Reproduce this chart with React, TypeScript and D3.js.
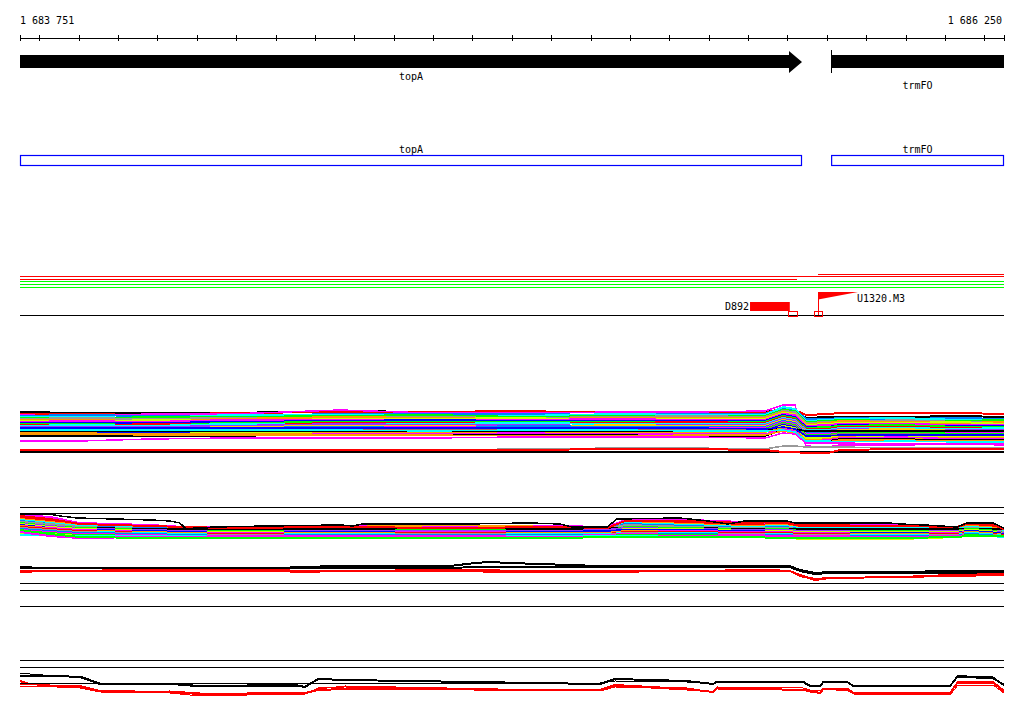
import React from 'react';
import * as d3 from 'd3';

const VIEW_START = 1683751;
const VIEW_END = 1686250;
const AXIS_LABEL_POS = [1683751, 1686250];
const TICK_STEP = 100;

const GENE_NAMES = ['topA', 'trmFO'];
const GENE_STARTS = [1683751, 1685811];
const GENE_ENDS = [1685737, 1686250];
const GENE_HAS_HEAD = [true, false];
const GENE_LABEL_ROW = [0, 1];

// feature segments track (offset units)
const SEG_COLORS = ['#ff0000', '#ff0000', '#ff0000', '#00ff00', '#00ff00', '#00ff00'];
const SEG_STARTS = [1683751, 1683751, 1685778, 1683751, 1683751, 1683751];
const SEG_ENDS = [1686250, 1685724, 1686250, 1686250, 1686250, 1686250];
const SEG_LEVELS = [6, 9, 4, 11, 14, 17];

const FEAT_NAMES = ['D892', 'U1320.M3'];
const FEAT_STARTS = [1685605, 1685778];
const FEAT_ENDS = [1685706, 1685879];
const FEAT_KIND = ['block', 'flag'];
const SITE_STARTS = [1685701, 1685768];
const SITE_ENDS = [1685724, 1685788];

// ---------- band 1 ----------
const B1_POS = [1683751, 1683901, 1684081, 1684284, 1684564, 1684792, 1685021, 1685275, 1685453, 1685643, 1685689, 1685719, 1685747, 1685803, 1685833, 1685986, 1686138, 1686250];
const B1_COLORS = ['#000000', '#ff0000', '#ff00ff', '#0080ff', '#00ffff', '#00ff00', '#999999', '#ff9900', '#ccff00', '#ff00ff', '#0000ff', '#00ff00', '#ff0000', '#00ffff', '#9933ff', '#ffcc00', '#0080ff', '#ff00ff', '#00ff00', '#a07070', '#0000ff', '#ccff00', '#000000', '#ff9900', '#ff00ff', '#000000', '#ff9900', '#00ffff', '#ff00ff', '#0000ff'];
const B1_SERIES = [
  [12, 13, 13, 13, 11, 12, 12, 12, 13, 12, 9, 10, 18, 17, 17, 17, 16, 17],
  [14, 14, 15, 13, 12, 12, 11, 13, 13, 13, 8, 10, 15, 14, 13, 13, 13, 14],
  [15, 16, 14, 14, 10, 13, 13, 12, 12, 11, 5, 5, 46, 47, 45, 45, 44, 45],
  [16, 15, 16, 16, 14, 14, 14, 15, 14, 14, 8, 9, 19, 19, 18, 19, 18, 19],
  [17, 17, 18, 15, 15, 16, 16, 14, 15, 15, 7, 9, 21, 20, 19, 18, 20, 21],
  [18, 19, 17, 17, 16, 15, 17, 16, 17, 16, 10, 11, 22, 21, 20, 21, 21, 20],
  [19, 18, 19, 18, 18, 17, 18, 17, 16, 17, 11, 12, 23, 22, 22, 20, 22, 23],
  [20, 20, 21, 19, 17, 18, 19, 18, 18, 18, 12, 14, 24, 23, 21, 22, 23, 22],
  [21, 22, 20, 21, 19, 19, 18, 20, 19, 19, 13, 14, 25, 24, 23, 23, 22, 24],
  [22, 21, 22, 20, 20, 21, 20, 19, 20, 20, 14, 15, 26, 25, 24, 24, 25, 25],
  [23, 23, 23, 22, 21, 20, 21, 21, 21, 21, 15, 17, 27, 27, 25, 26, 26, 26],
  [24, 24, 25, 23, 22, 22, 22, 22, 23, 22, 16, 18, 28, 27, 26, 25, 27, 27],
  [25, 26, 24, 25, 23, 23, 24, 23, 22, 23, 17, 19, 29, 29, 27, 27, 28, 29],
  [26, 25, 26, 24, 25, 24, 23, 24, 24, 24, 18, 20, 30, 30, 28, 28, 29, 28],
  [27, 27, 27, 26, 24, 25, 25, 26, 25, 25, 19, 21, 31, 31, 29, 30, 30, 30],
  [28, 28, 29, 27, 26, 26, 27, 25, 26, 26, 20, 22, 32, 32, 30, 29, 31, 31],
  [29, 30, 28, 28, 27, 28, 26, 27, 27, 27, 21, 23, 33, 33, 31, 31, 32, 32],
  [30, 29, 30, 29, 28, 27, 28, 28, 28, 28, 22, 24, 34, 34, 32, 33, 33, 33],
  [31, 31, 31, 30, 29, 29, 29, 29, 29, 29, 23, 25, 35, 35, 33, 32, 34, 34],
  [32, 32, 32, 31, 30, 30, 30, 30, 30, 30, 24, 26, 36, 36, 34, 34, 35, 35],
  [33, 33, 33, 32, 31, 31, 31, 31, 31, 31, 25, 27, 37, 37, 35, 35, 36, 35],
  [34, 34, 34, 33, 32, 32, 32, 32, 32, 32, 26, 28, 38, 38, 36, 36, 37, 36],
  [31, 31, 31, 31, 31, 31, 31, 31, 31, 31, 27, 29, 31, 31, 31, 31, 31, 31],
  [33, 33, 34, 34, 33, 33, 33, 33, 33, 32, 28, 30, 40, 39, 37, 38, 38, 38],
  [35, 35, 35, 35, 34, 34, 33, 34, 34, 34, 29, 31, 41, 40, 38, 37, 39, 39],
  [36, 36, 36, 36, 35, 35, 35, 35, 36, 36, 30, 32, 42, 41, 39, 39, 40, 40],
  [34, 34, 35, 35, 35, 35, 36, 36, 35, 35, 31, 33, 43, 42, 40, 40, 41, 41],
  [30, 30, 30, 30, 30, 31, 30, 30, 31, 31, 30, 32, 41, 41, 42, 41, 42, 42],
  [41, 41, 39, 38, 38, 38, 37, 37, 37, 38, 33, 34, 43, 43, 43, 44, 44, 44],
  [28, 28, 28, 28, 28, 28, 28, 28, 28, 29, 27, 29, 36, 36, 35, 35, 35, 35],
];
const B1_WIDTHS = [2, 2, 1.5, 2, 2, 2, 2, 2, 2, 2, 2, 2, 2, 2, 2, 2, 2, 2, 2, 2, 2, 2, 1.5, 1.5, 1.5, 1.5, 1.5, 1.5, 1.5, 1.5];
const B1_BASE_COLORS = ['#999999', '#000000', '#ff0000'];
const B1_BASE_WIDTHS = [1.5, 1.5, 2];
const B1_BASE_SERIES = [
  [50, 50, 50, 50, 50, 50, 49, 48, 48, 49, 46, 46, 47, 47, 47, 48, 48, 48],
  [52, 52, 52, 52, 52, 52, 52, 52, 52, 52, 52, 52, 52, 52, 52, 52, 52, 52],
  [50, 50, 50, 50, 50, 50, 50, 49, 49, 50, 52, 52, 53, 53, 50, 49, 49, 49],
];

// ---------- band 2 ----------
const B2_RULES = [7, 13, 83, 90, 106];
const B2_TOP_POS = [1683751, 1683822, 1683853, 1683896, 1684086, 1684132, 1684157, 1684173, 1684195, 1684246, 1684378, 1684564, 1684597, 1684620, 1684876, 1685046, 1685122, 1685153, 1685242, 1685267, 1685427, 1685498, 1685549, 1685592, 1685699, 1685719, 1685960, 1685986, 1686049, 1686131, 1686156, 1686222, 1686250];
const B2_TOP = [14, 14, 16, 18, 20, 21, 23, 29, 28, 27, 26, 25, 26, 24, 24, 23, 24, 27, 27, 19, 18, 21, 24, 21, 21, 23, 23, 24, 25, 27, 23, 23, 28];
const B2_POS = [1683751, 1683827, 1683903, 1684081, 1684170, 1684284, 1684564, 1684843, 1685122, 1685242, 1685288, 1685453, 1685592, 1685694, 1685732, 1685986, 1686131, 1686156, 1686214, 1686250];
const B2_COLORS = ['#ff00ff', '#ff00ff', '#ff0000', '#ff9900', '#00ffff', '#0080ff', '#999999', '#000000', '#00ff00', '#9933ff', '#ccff00', '#0000ff', '#ff00ff', '#ff9900', '#ff0000', '#00ffff', '#999999', '#0080ff', '#ff00ff', '#00ff00', '#ccff00', '#00ffff', '#ff00ff', '#00ff00', '#ff0000'];
const B2_SERIES = [
  [15, 17, 23, 25, 27, 27, 26, 26, 26, 27, 20, 20, 22, 22, 25, 25, 27, 23, 24, 29],
  [17, 20, 25, 27, 28, 28, 28, 27, 28, 28, 21, 22, 24, 23, 26, 26, 28, 24, 25, 30],
  [18, 21, 24, 26, 28, 29, 28, 29, 28, 28, 22, 23, 25, 24, 27, 27, 28, 25, 26, 31],
  [19, 22, 25, 27, 29, 28, 27, 25, 27, 28, 22, 24, 26, 25, 28, 28, 29, 26, 27, 30],
  [20, 23, 26, 28, 29, 29, 29, 28, 29, 29, 23, 25, 27, 26, 28, 28, 29, 27, 28, 31],
  [21, 24, 27, 28, 29, 30, 29, 29, 29, 29, 24, 26, 28, 27, 29, 29, 30, 28, 29, 32],
  [22, 24, 27, 29, 30, 30, 30, 30, 30, 29, 25, 27, 28, 28, 29, 30, 30, 28, 29, 32],
  [25, 27, 28, 29, 29, 29, 29, 29, 29, 28, 28, 28, 29, 29, 29, 29, 29, 29, 29, 29],
  [23, 26, 28, 30, 31, 31, 31, 30, 31, 31, 27, 28, 30, 29, 31, 31, 31, 29, 30, 33],
  [24, 26, 29, 30, 31, 32, 31, 31, 31, 30, 28, 29, 30, 30, 31, 32, 31, 30, 31, 33],
  [24, 27, 29, 31, 32, 32, 32, 32, 32, 32, 29, 29, 31, 31, 32, 32, 32, 30, 31, 34],
  [25, 28, 30, 31, 32, 33, 32, 33, 32, 31, 30, 30, 31, 32, 33, 33, 33, 31, 32, 34],
  [26, 28, 30, 32, 33, 33, 33, 32, 33, 33, 31, 31, 32, 32, 33, 34, 33, 32, 33, 35],
  [26, 29, 31, 32, 33, 34, 33, 34, 33, 33, 31, 32, 33, 33, 34, 34, 34, 32, 33, 35],
  [27, 29, 31, 33, 34, 34, 34, 33, 34, 34, 32, 32, 33, 33, 34, 35, 34, 33, 34, 35],
  [28, 30, 32, 33, 34, 35, 34, 35, 34, 34, 33, 33, 34, 34, 35, 35, 35, 33, 34, 36],
  [28, 30, 32, 34, 35, 35, 35, 34, 35, 35, 33, 34, 34, 35, 35, 36, 35, 34, 35, 36],
  [29, 31, 33, 34, 35, 36, 35, 35, 35, 35, 34, 34, 35, 35, 36, 36, 36, 34, 35, 37],
  [30, 32, 34, 35, 36, 36, 36, 36, 36, 35, 34, 35, 35, 36, 36, 37, 36, 35, 36, 37],
  [31, 33, 35, 36, 36, 37, 37, 37, 37, 36, 35, 35, 36, 36, 37, 37, 37, 35, 36, 37],
  [33, 34, 36, 37, 37, 37, 37, 38, 38, 37, 36, 36, 37, 37, 39, 39, 37, 36, 36, 37],
  [35, 35, 36, 36, 36, 36, 36, 36, 36, 36, 36, 36, 37, 37, 37, 37, 37, 36, 36, 37],
  [32, 36, 38, 37, 37, 36, 36, 36, 37, 37, 37, 36, 36, 36, 37, 37, 36, 36, 36, 36],
  [30, 34, 37, 38, 38, 38, 38, 38, 38, 37, 37, 37, 37, 38, 38, 38, 37, 36, 36, 36],
  [16, 19, 24, 26, 27, 28, 27, 28, 27, 28, 21, 21, 23, 22, 25, 26, 27, 23, 24, 29],
];
const B2_LOW_POS = [1683751, 1683814, 1684107, 1684411, 1684462, 1684564, 1684843, 1684907, 1684945, 1684995, 1685224, 1685427, 1685656, 1685706, 1685732, 1685770, 1685808, 1685986, 1686113, 1686250];
const B2_LOW_COLORS = ['#000000', '#000000', '#ff0000', '#ff0000'];
const B2_LOW_SERIES = [
  [67, 68, 68, 68, 67, 66, 66, 63, 62, 63, 66, 66, 66, 66, 70, 73, 72, 72, 71, 71],
  [68, 68, 68, 68, 68, 68, 68, 67, 67, 67, 67, 67, 67, 67, 71, 74, 73, 73, 73, 72],
  [71, 71, 71, 71, 72, 71, 70, 70, 70, 71, 71, 71, 71, 71, 75, 80, 78, 77, 76, 75],
  [72, 71, 70, 70, 71, 71, 71, 71, 72, 72, 72, 71, 70, 71, 76, 79, 78, 77, 75, 74],
];

// ---------- band 3 ----------
const B3_RULES = [10, 17];
const B3_POS = [1683751, 1683776, 1683845, 1683903, 1683954, 1684132, 1684208, 1684449, 1684475, 1684508, 1684576, 1685224, 1685262, 1685445, 1685511, 1685521, 1685740, 1685757, 1685783, 1685791, 1685852, 1685867, 1686113, 1686133, 1686222, 1686250];
const B3_COLORS = ['#ff0000', '#ff0000', '#ff0000', '#000000', '#000000', '#000000'];
const B3_WIDTHS = [2, 1, 1, 2, 1, 1];
const B3_SERIES = [
  [31, 34, 36, 36, 41, 42, 44, 43, 43, 40, 39, 40, 35, 39, 42, 38, 40, 41, 43, 39, 40, 43, 43, 32, 32, 41],
  [34, 34, 36, 37, 42, 43, 46, 44, 44, 38, 37, 41, 36, 40, 42, 39, 40, 42, 43, 39, 39, 44, 45, 35, 35, 43],
  [36, 36, 37, 38, 42, 41, 43, 45, 44, 39, 36, 41, 37, 38, 42, 37, 38, 40, 41, 38, 38, 42, 43, 33, 33, 42],
  [26, 26, 26, 27, 34, 34, 36, 35, 37, 29, 30, 34, 29, 31, 34, 32, 32, 36, 36, 32, 32, 36, 36, 26, 28, 35],
  [33, 33, 33, 33, 33, 33, 33, 33, 33, 33, 33, 33, 31, 32, 34, 32, 32, 35, 35, 32, 32, 35, 35, 27, 29, 34],
  [23, 24, 26, 26, 33, 34, 37, 36, 36, 29, 30, 34, 29, 31, 34, 31, 31, 36, 37, 31, 32, 36, 36, 26, 27, 35],
];

const FONT = 'DejaVu Sans Mono, monospace';

export default function App() {
  const x = d3.scaleLinear().domain([VIEW_START, VIEW_END]).range([20, 1004]);
  const fmt = d3.formatLocale({ decimal: '.', thousands: ' ', grouping: [3], currency: ['', ''] }).format(',');
  const ticks = [VIEW_START, ...d3.range(Math.ceil(VIEW_START / TICK_STEP) * TICK_STEP, VIEW_END, TICK_STEP), VIEW_END];

  const yFeat = d3.scaleLinear().domain([0, 50]).range([270, 320]);
  const yB1 = d3.scaleLinear().domain([0, 60]).range([400, 460]);
  const yB2 = d3.scaleLinear().domain([0, 110]).range([500, 610]);
  const yB3 = d3.scaleLinear().domain([0, 50]).range([650, 700]);

  const mk = (pos: number[], y: d3.ScaleLinear<number, number>) =>
    d3.line<number>().x((_, i) => x(pos[i])).y((v) => y(v));

  const l1 = mk(B1_POS, yB1);
  const l2t = mk(B2_TOP_POS, yB2);
  const l2 = mk(B2_POS, yB2);
  const l2l = mk(B2_LOW_POS, yB2);
  const l3 = mk(B3_POS, yB3);

  const x0 = x(VIEW_START), x1 = x(VIEW_END);

  return (
    <svg width={1024} height={714} style={{ position: 'absolute', left: 0, top: 0, background: '#fff' }}>
      <rect x={0} y={0} width={1024} height={714} fill="#fff" />
      {/* axis */}
      <text x={x(AXIS_LABEL_POS[0])} y={24} fontFamily={FONT} fontSize={10}>{fmt(AXIS_LABEL_POS[0])}</text>
      <text x={x(AXIS_LABEL_POS[1]) - 2} y={24} fontFamily={FONT} fontSize={10} textAnchor="end">{fmt(AXIS_LABEL_POS[1])}</text>
      <line x1={x0} x2={x1} y1={38.5} y2={38.5} stroke="#000" strokeWidth={1} shapeRendering="crispEdges" />
      {ticks.map((t, i) => (
        <line key={i} x1={Math.round(x(t)) + 0.5} x2={Math.round(x(t)) + 0.5} y1={35} y2={41} stroke="#000" shapeRendering="crispEdges" />
      ))}

      {/* genes track */}
      {GENE_NAMES.map((g, i) => {
        const s = x(GENE_STARTS[i]), e = x(GENE_ENDS[i]);
        const head = GENE_HAS_HEAD[i] ? 13 : 0;
        const d = GENE_HAS_HEAD[i]
          ? `M${s},55 L${e - head},55 L${e - head},51 L${e},62 L${e - head},73 L${e - head},68 L${s},68 Z`
          : `M${s},55 L${e},55 L${e},68 L${s},68 Z`;
        return (
          <g key={g}>
            <path d={d} fill="#000" />
            {GENE_STARTS[i] > VIEW_START && (
              <line x1={s + 0.5} x2={s + 0.5} y1={50} y2={73} stroke="#000" shapeRendering="crispEdges" />
            )}
            <text x={(s + e) / 2} y={GENE_LABEL_ROW[i] === 0 ? 80 : 89} fontFamily={FONT} fontSize={10} textAnchor="middle">{g}</text>
            <rect x={s + 0.5} y={155.5} width={e - s - 1} height={10} fill="none" stroke="#0000ff" strokeWidth={1.2} />
            <text x={(s + e) / 2} y={153} fontFamily={FONT} fontSize={10} textAnchor="middle">{g}</text>
          </g>
        );
      })}

      {/* segment lines */}
      {SEG_COLORS.map((c, i) => (
        <line key={i} x1={x(SEG_STARTS[i])} x2={x(SEG_ENDS[i])} y1={yFeat(SEG_LEVELS[i]) + 0.5} y2={yFeat(SEG_LEVELS[i]) + 0.5} stroke={c} strokeWidth={1.2} shapeRendering="crispEdges" />
      ))}
      <line x1={x0} x2={x1} y1={yFeat(45) + 0.5} y2={yFeat(45) + 0.5} stroke="#000" shapeRendering="crispEdges" />
      {FEAT_NAMES.map((f, i) => {
        const s = x(FEAT_STARTS[i]), e = x(FEAT_ENDS[i]);
        if (FEAT_KIND[i] === 'block') {
          return (
            <g key={f}>
              <rect x={s} y={yFeat(32)} width={e - s} height={yFeat(41) - yFeat(32)} fill="#ff0000" />
              <text x={s - 1} y={310} fontFamily={FONT} fontSize={10} textAnchor="end">{f}</text>
            </g>
          );
        }
        return (
          <g key={f}>
            <line x1={s + 0.5} x2={s + 0.5} y1={yFeat(22)} y2={yFeat(45)} stroke="#ff0000" shapeRendering="crispEdges" />
            <path d={`M${s},${yFeat(22)} L${e},${yFeat(22)} L${s},${yFeat(29.5)} Z`} fill="#ff0000" />
            <text x={e - 1} y={302} fontFamily={FONT} fontSize={10}>{f}</text>
          </g>
        );
      })}
      {SITE_STARTS.map((s, i) => (
        <rect key={i} x={Math.round(x(s)) + 0.5} y={yFeat(41) + 0.5} width={Math.round(x(SITE_ENDS[i]) - x(s))} height={5} fill="none" stroke="#ff0000" shapeRendering="crispEdges" />
      ))}

      {/* band 1 */}
      <g fill="none" shapeRendering="crispEdges">
        {B1_SERIES.map((s, i) => (
          <path key={i} d={l1(s) || ''} stroke={B1_COLORS[i]} strokeWidth={B1_WIDTHS[i]} />
        ))}
        {B1_BASE_SERIES.map((s, i) => (
          <path key={'b' + i} d={l1(s) || ''} stroke={B1_BASE_COLORS[i]} strokeWidth={B1_BASE_WIDTHS[i]} />
        ))}
      </g>

      {/* band 2 */}
      {B2_RULES.map((r, i) => (
        <line key={i} x1={x0} x2={x1} y1={yB2(r) + 0.5} y2={yB2(r) + 0.5} stroke="#000" shapeRendering="crispEdges" />
      ))}
      <g fill="none" shapeRendering="crispEdges">
        {B2_SERIES.map((s, i) => (
          <path key={i} d={l2(s) || ''} stroke={B2_COLORS[i]} strokeWidth={2} />
        ))}
        <path d={l2t(B2_TOP) || ''} stroke="#000" strokeWidth={1.5} />
        {B2_LOW_SERIES.map((s, i) => (
          <path key={'l' + i} d={l2l(s) || ''} stroke={B2_LOW_COLORS[i]} strokeWidth={2} />
        ))}
      </g>

      {/* band 3 */}
      {B3_RULES.map((r, i) => (
        <line key={i} x1={x0} x2={x1} y1={yB3(r) + 0.5} y2={yB3(r) + 0.5} stroke="#000" shapeRendering="crispEdges" />
      ))}
      <g fill="none" shapeRendering="crispEdges">
        {B3_SERIES.map((s, i) => (
          <path key={i} d={l3(s) || ''} stroke={B3_COLORS[i]} strokeWidth={B3_WIDTHS[i]} />
        ))}
      </g>
    </svg>
  );
}
